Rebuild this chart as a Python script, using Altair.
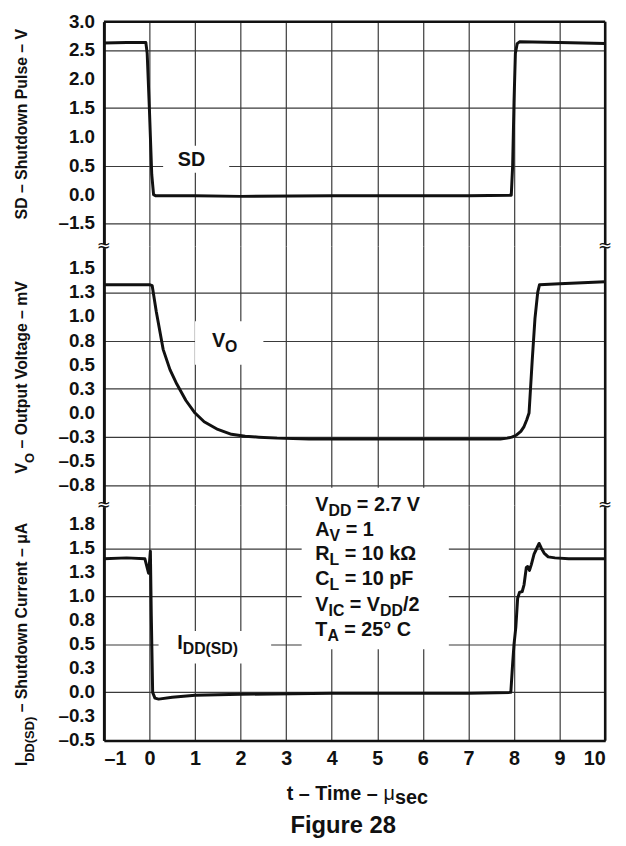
import altair as alt
import pandas as pd

FONT = "Liberation Sans"
BLACK = "#111111"
GRID = "#3a3a3a"

# ---------------- data ----------------
x_ticks = [-1, 0, 1, 2, 3, 4, 5, 6, 7, 8, 9, 10]
x_labels = ["–1", "0", "1", "2", "3", "4", "5", "6", "7", "8", "9", "10"]

sd_ticks = [3.0, 2.5, 2.0, 1.5, 1.0, 0.5, 0.0, -0.5]
sd_labels = ["3.0", "2.5", "2.0", "1.5", "1.0", "0.5", "0.0", "–1.5"]
vo_ticks = [1.5, 1.25, 1.0, 0.75, 0.5, 0.25, 0.0, -0.25, -0.5, -0.75]
vo_labels = ["1.5", "1.3", "1.0", "0.8", "0.5", "0.3", "0.0", "–0.3", "–0.5", "–0.8"]
idd_ticks = [1.75, 1.5, 1.25, 1.0, 0.75, 0.5, 0.25, 0.0, -0.25, -0.5]
idd_labels = ["1.8", "1.5", "1.3", "1.0", "0.8", "0.5", "0.3", "0.0", "–0.3", "–0.5"]

sd_t = [-1.0, -0.5, -0.08, -0.05, 0.0, 0.05, 0.09, 0.14, 1.0, 2.0, 4.0, 6.0, 7.0,
        7.94, 7.97, 8.0, 8.03, 8.07, 8.12, 9.0, 10.0]
sd_v = [2.63, 2.64, 2.64, 2.45, 1.45, 0.35, 0.0, -0.02, -0.02, -0.03, -0.02, -0.02, -0.02,
        -0.01, 0.5, 1.6, 2.45, 2.62, 2.65, 2.64, 2.62]

vo_t = [-1.0, -0.5, 0.0, 0.06, 0.15, 0.3, 0.45, 0.6, 0.8, 1.0, 1.2, 1.5, 1.8, 2.1, 2.4,
        2.8, 3.5, 5.0, 7.0, 7.7, 7.85, 7.95, 8.05, 8.15, 8.22, 8.28, 8.33, 8.4, 8.46,
        8.52, 8.56, 9.0, 10.0]
vo_v = [1.33, 1.33, 1.33, 1.32, 1.05, 0.66, 0.45, 0.30, 0.13, 0.0, -0.09, -0.17, -0.22,
        -0.24, -0.25, -0.26, -0.27, -0.27, -0.27, -0.27, -0.26, -0.25, -0.23, -0.19, -0.14,
        -0.07, 0.0, 0.55, 0.98, 1.25, 1.33, 1.34, 1.36]

idd_t = [-1.0, -0.5, -0.1, -0.02, 0.0, 0.02, 0.04, 0.07, 0.12, 0.2, 0.5, 1.0, 2.0, 4.0,
         6.0, 7.0, 7.93, 7.97, 8.0, 8.04, 8.08, 8.12, 8.18, 8.22, 8.27, 8.3, 8.34, 8.38,
         8.44, 8.5, 8.55, 8.6, 8.66, 8.75, 8.9, 9.2, 10.0]
idd_v = [1.39, 1.40, 1.39, 1.24, 1.35, 1.47, 0.8, 0.0, -0.06, -0.07, -0.05, -0.03, -0.02,
         -0.01, -0.01, -0.01, 0.0, 0.3, 0.5, 0.68, 0.98, 1.04, 1.05, 1.12, 1.3, 1.31, 1.27,
         1.33, 1.44, 1.5, 1.55, 1.5, 1.45, 1.41, 1.40, 1.39, 1.39]

# ---------------- layout ----------------
W = 507
H1, H2, H3 = 227, 262, 238
SD_DOMAIN = [-0.892, 3.0]
VO_DOMAIN = [-0.954, 1.730]
IDD_DOMAIN = [-0.5, 1.949]

CW = {' ': 278, '–': 556, '=': 584, '.': 278, '/': 278, 'A': 722, 'C': 722, 'D': 722,
      'F': 611, 'I': 278, 'L': 611, 'O': 778, 'R': 722, 'S': 667, 'T': 611, 'V': 667,
      'a': 556, 'c': 556, 'd': 611, 'e': 556, 'g': 611, 'h': 611, 'i': 278, 'k': 556,
      'l': 278, 'm': 889, 'n': 611, 'o': 611, 'p': 611, 'r': 389, 's': 556, 't': 333,
      'u': 611, 'w': 778, '(': 333, ')': 333, 'Ω': 768, '°': 400, 'μ': 577}
for d in "0123456789":
    CW[d] = 556


def tw(s, size):
    return sum(CW.get(c, 600) for c in s) * size / 1000.0


def split_lead(s, size):
    """SVG drops leading blanks: move them into the offset instead."""
    stripped = s.lstrip(" ")
    return stripped, tw(s[: len(s) - len(stripped)], size)


def label_expr(vals, labs):
    arr = ",".join("'" + l + "'" for l in labs)
    vv = ",".join(repr(float(v)) for v in vals)
    return f"[{arr}][indexof([{vv}], datum.value)]"


one = pd.DataFrame({"k": [0]})


def xenc(show):
    return alt.X("t:Q", scale=alt.Scale(domain=[-1, 10], nice=False, zero=False),
                 axis=alt.Axis(values=x_ticks, labelExpr=label_expr(x_ticks, x_labels),
                               labels=show, domain=show, ticks=False, grid=True, title=None,
                               gridColor=GRID, gridWidth=1.2, gridOpacity=1,
                               domainColor=BLACK, domainWidth=2.5, labelOverlap=False,
                               labelFont=FONT, labelFontSize=20, labelFontWeight="bold",
                               labelColor=BLACK, labelPadding=8))


def yenc(domain, ticks):
    return alt.Y("v:Q", scale=alt.Scale(domain=domain, nice=False, zero=False),
                 axis=alt.Axis(values=ticks, labels=False,
                               ticks=False, grid=True, title=None, domain=True,
                               gridColor=GRID, gridWidth=1.2, gridOpacity=1,
                               domainColor=BLACK, domainWidth=3))


def ytick_texts(ticks, labels):
    df = pd.DataFrame({"v": ticks, "lab": labels})
    return alt.Chart(df).mark_text(
        align="right", baseline="middle", dx=-9, font=FONT, fontWeight="bold",
        fontSize=19, color=BLACK
    ).encode(x=alt.value(0), y=alt.Y("v:Q"), text="lab:N")


def seg_texts(segs, t0, v0, main=20, sub=16, sub_dy=5):
    out = []
    dx = 0.0
    for s, is_sub in segs:
        size = sub if is_sub else main
        txt, lead = split_lead(s, size)
        out.append(alt.Chart(one).mark_text(
            text=txt, font=FONT, fontWeight="bold", fontSize=size, align="left",
            baseline="alphabetic", dx=dx + lead, dy=sub_dy if is_sub else 0, color=BLACK
        ).encode(x=alt.datum(t0), y=alt.datum(v0)))
        dx += tw(s, size)
    return out


def rot_texts(segs, xb, y0, main=16, sub=13, sub_dx=7):
    out = []
    off = 0.0
    for s, is_sub in segs:
        size = sub if is_sub else main
        txt, lead = split_lead(s, size)
        out.append(alt.Chart(one).mark_text(
            text=txt, angle=270, align="left", baseline="alphabetic", font=FONT,
            fontWeight="bold", fontSize=size, color=BLACK
        ).encode(x=alt.value(xb + (sub_dx if is_sub else 0)), y=alt.value(y0 - off - lead)))
        off += tw(s, size)
    return out


def hseg_texts(segs, x0, yb, main=20, sub=20, sub_dy=4):
    out = []
    off = 0.0
    for s, is_sub, weight in segs:
        size = sub if is_sub else main
        txt, lead = split_lead(s, size)
        out.append(alt.Chart(one).mark_text(
            text=txt, align="left", baseline="alphabetic", font=FONT,
            fontWeight=weight, fontSize=size, color=BLACK
        ).encode(x=alt.value(x0 + off + lead), y=alt.value(yb + (sub_dy if is_sub else 0))))
        off += tw(s, size)
    return out


def white_box(t1, t2, v1, v2):
    return alt.Chart(one).mark_rect(color="white").encode(
        x=alt.datum(t1), x2=alt.datum(t2), y=alt.datum(v1), y2=alt.datum(v2))


def right_border(h):
    return alt.Chart(one).mark_rule(color=BLACK, strokeWidth=2.5).encode(
        x=alt.value(W), y=alt.value(0), y2=alt.value(h))


def breaks():
    out = []
    for xx in [0, W]:
        out.append(alt.Chart(one).mark_rect(color="white").encode(
            x=alt.value(xx - 5), x2=alt.value(xx + 5), y=alt.value(-2), y2=alt.value(2)))
        out.append(alt.Chart(one).mark_text(
            text="≈", font="DejaVu Sans", fontSize=17, align="center", baseline="middle",
            color=BLACK).encode(x=alt.value(xx), y=alt.value(0)))
    return out


def curve(t, v, domain, ticks, show):
    df = pd.DataFrame({"t": t, "v": v, "i": range(len(t))})
    return alt.Chart(df).mark_line(color=BLACK, strokeWidth=3, strokeJoin="round").encode(
        x=xenc(show), y=yenc(domain, ticks), order="i:Q")


# ---- panel 1: SD ----
p1_layers = [curve(sd_t, sd_v, SD_DOMAIN, sd_ticks, False),
             ytick_texts(sd_ticks, sd_labels),
             white_box(0.3, 1.75, 0.38, 0.85)]
p1_layers += seg_texts([("SD", 0)], 0.62, 0.5)
p1_layers += [alt.Chart(one).mark_rule(color=BLACK, strokeWidth=2.5).encode(
    x=alt.value(0), x2=alt.value(W), y=alt.value(0)), right_border(H1)]
p1_layers += rot_texts([("SD – Shutdown Pulse – V", 0)], -78, 200)
p1 = alt.layer(*p1_layers).properties(width=W, height=H1)

# ---- panel 2: VO ----
p2_layers = [white_box(1.0, 2.5, 0.5, 0.95),
             curve(vo_t, vo_v, VO_DOMAIN, vo_ticks, False),
             ytick_texts(vo_ticks, vo_labels)]
p2_layers += seg_texts([("V", 0), ("O", 1)], 1.37, 0.68)
p2_layers += [right_border(H2)]
p2_layers += breaks()
p2_layers += rot_texts([("V", 0), ("O", 1), (" – Output Voltage – mV", 0)], -78, 230)
p2 = alt.layer(*p2_layers).properties(width=W, height=H2)

# ---- panel 3: IDD(SD) ----
param_lines = [
    [("V", 0), ("DD", 1), (" = 2.7 V", 0)],
    [("A", 0), ("V", 1), (" = 1", 0)],
    [("R", 0), ("L", 1), (" = 10 kΩ", 0)],
    [("C", 0), ("L", 1), (" = 10 pF", 0)],
    [("V", 0), ("IC", 1), (" = V", 0), ("DD", 1), ("/2", 0)],
    [("T", 0), ("A", 1), (" = 25° C", 0)],
]
param_v = [1.89, 1.63, 1.38, 1.12, 0.85, 0.59]

p3_layers = [white_box(0.2, 2.67, 0.3, 0.64),
             white_box(3.34, 6.57, 0.45, 2.13),
             curve(idd_t, idd_v, IDD_DOMAIN, idd_ticks, True),
             ytick_texts(idd_ticks, idd_labels)]
for segs, vv in zip(param_lines, param_v):
    p3_layers += seg_texts(segs, 3.64, vv)
p3_layers += seg_texts([("I", 0), ("DD(SD)", 1)], 0.61, 0.45)
p3_layers += [right_border(H3)]
p3_layers += breaks()
p3_layers += rot_texts([("I", 0), ("DD(SD)", 1), (" – Shutdown Current –  μA", 0)], -78, 264)
p3_layers += hseg_texts([("t – Time – ", 0, "bold"), ("μ", 0, "normal"), ("sec", 1, "bold")],
                        185, 298)
p3_layers.append(alt.Chart(one).mark_text(
    text="Figure 28", font=FONT, fontWeight="bold", fontSize=24, align="center",
    baseline="alphabetic", color=BLACK).encode(x=alt.value(242), y=alt.value(332)))
p3 = alt.layer(*p3_layers).properties(width=W, height=H3)

chart = alt.vconcat(p1, p2, p3, spacing=0, bounds="flush").resolve_scale(
    y="independent").properties(
    padding={"left": 5, "top": 0, "right": 5, "bottom": 5}
).configure_view(stroke=None).configure_axis(labelOverlap=False)

chart.save("out.html", embed_options={"renderer": "svg", "actions": False})
